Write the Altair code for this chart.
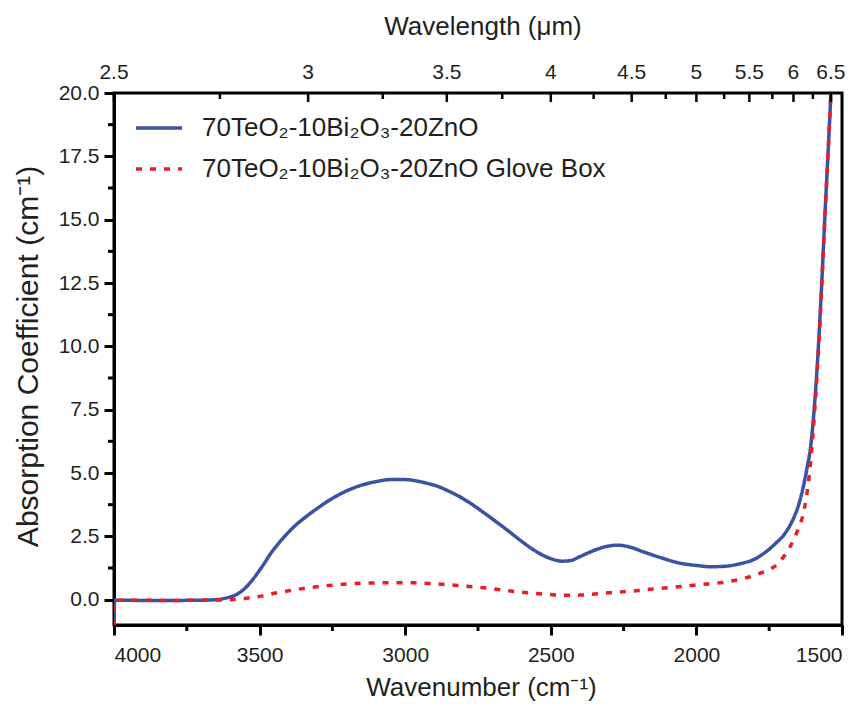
import altair as alt
import pandas as pd

# ---------------- data ----------------
S1 = "70TeO₂-10Bi₂O₃-20ZnO"
S2 = "70TeO₂-10Bi₂O₃-20ZnO Glove Box"

wn_blue = [4000, 3998, 3900, 3800, 3700, 3650, 3610, 3580, 3550, 3520, 3490, 3460, 3420,
           3380, 3340, 3300, 3250, 3200, 3150, 3100, 3050, 3000, 2950, 2920, 2900, 2850,
           2800, 2750, 2700, 2650, 2600, 2550, 2500, 2460, 2430, 2400, 2350, 2300, 2270,
           2230, 2180, 2120, 2060, 2000, 1950, 1900, 1850, 1800, 1760, 1730, 1700, 1680,
           1665, 1650, 1635, 1620, 1607, 1595, 1582, 1570, 1558, 1548, 1538]
ab_blue = [-1.0, -0.02, -0.03, -0.03, -0.02, 0.0, 0.08, 0.2, 0.45, 0.85, 1.33, 1.85, 2.42,
           2.9, 3.28, 3.62, 4.0, 4.3, 4.52, 4.66, 4.74, 4.74, 4.66, 4.58, 4.52, 4.28,
           3.98, 3.6, 3.18, 2.75, 2.3, 1.9, 1.62, 1.52, 1.55, 1.7, 1.95, 2.12, 2.15,
           2.08, 1.88, 1.65, 1.45, 1.35, 1.3, 1.32, 1.42, 1.6, 1.9, 2.2, 2.55, 2.9,
           3.25, 3.7, 4.35, 5.2, 6.1, 7.6, 9.8, 12.4, 15.3, 17.6, 20.0]

wn_red = [4000, 3998, 3800, 3700, 3600, 3550, 3500, 3450, 3400, 3340, 3250, 3190, 3100,
          3020, 2950, 2900, 2820, 2740, 2660, 2580, 2500, 2460, 2400, 2350, 2300, 2200,
          2150, 2050, 1990, 1900, 1830, 1780, 1740, 1720, 1700, 1680, 1665, 1650, 1635,
          1623, 1613, 1600, 1590, 1580, 1570, 1558, 1548, 1538]
ab_red = [-1.0, -0.02, -0.03, -0.02, 0.0, 0.05, 0.13, 0.25, 0.35, 0.46, 0.57, 0.63, 0.66,
          0.67, 0.66, 0.63, 0.56, 0.48, 0.37, 0.27, 0.2, 0.17, 0.18, 0.22, 0.27, 0.36,
          0.42, 0.52, 0.59, 0.7, 0.86, 1.05, 1.25, 1.42, 1.7, 2.05, 2.4, 2.8, 3.3,
          4.0, 4.85, 6.5, 8.1, 10.0, 12.3, 15.3, 17.6, 20.0]

x_major = [4000, 3500, 3000, 2500, 2000, 1500]
x_minor = [3750, 3250, 2750, 2250, 1750]
y_major = [0, 2.5, 5, 7.5, 10, 12.5, 15, 17.5, 20]
y_minor = [1.25, 3.75, 6.25, 8.75, 11.25, 13.75, 16.25, 18.75]
wl_major = [2.5, 3, 3.5, 4, 4.5, 5, 5.5, 6, 6.5]
wl_labels = ["2.5", "3", "3.5", "4", "4.5", "5", "5.5", "6", "6.5"]
wl_minor = [2.75, 3.25, 3.75, 4.25, 4.75, 5.25, 5.75, 6.25]

TOP_TITLE = "Wavelength (μm)"
X_TITLE = "Wavenumber (cm⁻¹)"
Y_TITLE = "Absorption Coefficient (cm⁻¹)"

# ---------------- tables ----------------
df = pd.concat([
    pd.DataFrame({"wn": wn_blue, "ab": ab_blue, "series": S1, "o": range(len(wn_blue))}),
    pd.DataFrame({"wn": wn_red, "ab": ab_red, "series": S2, "o": range(len(wn_red))}),
], ignore_index=True)

W, H = 728, 532
FONT = "Liberation Sans, Arial, sans-serif"
xs = alt.Scale(domain=[1500, 4000], reverse=True, nice=False, zero=False)
ys = alt.Scale(domain=[-1, 20], nice=False, zero=False)

xa = alt.Axis(
    values=x_major, format="d", title=X_TITLE, tickSize=10, tickWidth=3,
    labelFontSize=21, labelBaseline="alphabetic", labelPadding=26,
    titleFontSize=26, titleFontWeight="normal", titleBaseline="alphabetic",
    titleY=70, titleX=W / 2 + 3)
ya = alt.Axis(
    values=y_major, format=".1f", title=Y_TITLE, tickSize=10, tickWidth=3,
    labelFontSize=21, labelPadding=5,
    titleFontSize=30, titleFontWeight="normal", titleBaseline="alphabetic",
    titleAngle=270, titleX=-77, titleY=H / 2 - 3)

lines = alt.Chart(df).mark_line(strokeWidth=3.5, clip=True, interpolate="monotone").encode(
    x=alt.X("wn:Q", scale=xs, axis=xa),
    y=alt.Y("ab:Q", scale=ys, axis=ya),
    color=alt.Color("series:N", scale=alt.Scale(domain=[S1, S2], range=["#3953a4", "#ed1c24"]),
                    legend=alt.Legend(title=None)),
    strokeDash=alt.StrokeDash("series:N", scale=alt.Scale(domain=[S1, S2], range=[[1, 0], [6, 8]]),
                              legend=alt.Legend(title=None)),
    order="o:Q",
)

def tick_df(vals, name):
    return pd.DataFrame({name: vals})

bottom_minor = alt.Chart(tick_df(x_minor, "wn")).mark_rule(strokeWidth=3, color="black").encode(
    x=alt.X("wn:Q", scale=xs, axis=xa), y=alt.value(H), y2=alt.value(H + 6))

left_minor = alt.Chart(tick_df(y_minor, "ab")).mark_rule(strokeWidth=3, color="black").encode(
    y=alt.Y("ab:Q", scale=ys, axis=ya), x=alt.value(-6), x2=alt.value(0))

top_major = alt.Chart(tick_df(wl_major, "wl")).transform_calculate(
    wn="10000/datum.wl").mark_rule(strokeWidth=2.5, color="black").encode(
    x=alt.X("wn:Q", scale=xs, axis=xa), y=alt.value(0), y2=alt.value(9))

top_minor = alt.Chart(tick_df(wl_minor, "wl")).transform_calculate(
    wn="10000/datum.wl").mark_rule(strokeWidth=2.5, color="black").encode(
    x=alt.X("wn:Q", scale=xs, axis=xa), y=alt.value(0), y2=alt.value(6))

top_labels = alt.Chart(pd.DataFrame({"wl": wl_major, "lab": wl_labels})).transform_calculate(
    wn="10000/datum.wl").mark_text(fontSize=21, font=FONT, baseline="alphabetic", align="center",
                                   color="#231f20").encode(
    x=alt.X("wn:Q", scale=xs, axis=xa), y=alt.value(-14), text="lab:N")

top_title = alt.Chart(pd.DataFrame({"t": [TOP_TITLE]})).mark_text(
    fontSize=26, font=FONT, baseline="alphabetic", align="center", color="#231f20").encode(
    x=alt.value(W / 2 + 5), y=alt.value(-58), text="t:N")

chart = alt.layer(lines, bottom_minor, left_minor, top_major, top_minor, top_labels, top_title).properties(
    width=W, height=H,
    autosize=alt.AutoSizeParams(type="none"),
    padding={"left": 106, "top": 85, "right": 16, "bottom": 78},
).configure_view(
    stroke="black", strokeWidth=3
).configure_axis(
    domainColor="black", domainWidth=3, tickColor="black", grid=False,
    labelFont=FONT, titleFont=FONT, labelColor="#231f20", titleColor="#231f20",
).configure_legend(
    orient="none", legendX=20, legendY=10, symbolType="stroke", symbolSize=2116,
    symbolStrokeWidth=3.5, labelFontSize=26, labelFont=FONT, labelColor="#231f20",
    labelOffset=18, rowPadding=3, padding=0, labelLimit=600,
)

chart.save("out.html", embed_options={"renderer": "svg", "actions": False})
